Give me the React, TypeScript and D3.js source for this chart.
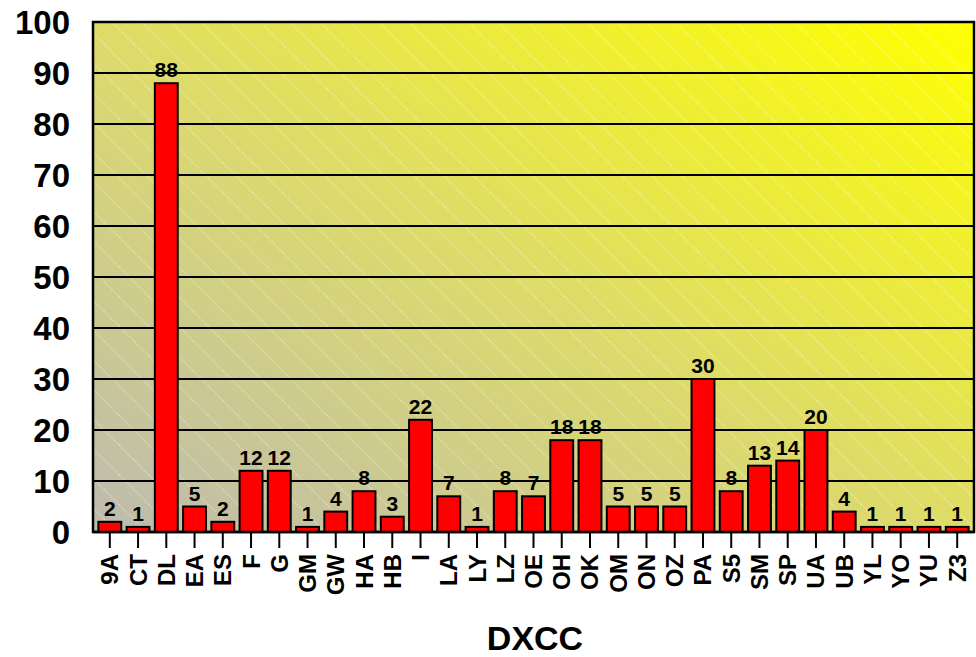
import React from 'react';
import * as d3 from 'd3';

const categories = ['9A', 'CT', 'DL', 'EA', 'ES', 'F', 'G', 'GM', 'GW', 'HA', 'HB', 'I', 'LA', 'LY', 'LZ', 'OE', 'OH', 'OK', 'OM', 'ON', 'OZ', 'PA', 'S5', 'SM', 'SP', 'UA', 'UB', 'YL', 'YO', 'YU', 'Z3'];
const values = [2, 1, 88, 5, 2, 12, 12, 1, 4, 8, 3, 22, 7, 1, 8, 7, 18, 18, 5, 5, 5, 30, 8, 13, 14, 20, 4, 1, 1, 1, 1];
const yTicks = [0, 10, 20, 30, 40, 50, 60, 70, 80, 90, 100];

const width = 976;
const height = 657;
const left = 93;
const right = 974;
const top = 22;
const bottom = 532;
const font = 'Arial, "Liberation Sans", sans-serif';

const App: React.FC = () => {
  const x = d3.scaleBand<string>().domain(categories).range([left, right]).padding(0.19);
  const y = d3.scaleLinear().domain([0, 100]).range([bottom, top]);
  const cx = (c: string) => (x(c) ?? 0) + x.bandwidth() / 2;

  return (
    <svg width={width} height={height} style={{ position: 'absolute', left: 0, top: 0 }}>
      <defs>
        <linearGradient id="bg" x1="0" y1="1" x2="1" y2="0">
          <stop offset="0" stopColor="#bdbbb0" />
          <stop offset="0.5" stopColor="#dedc68" />
          <stop offset="1" stopColor="#ffff00" />
        </linearGradient>
        <pattern id="hatch" width="21" height="21" patternUnits="userSpaceOnUse" patternTransform="rotate(-45)">
          <line x1="0.5" y1="0" x2="0.5" y2="21" stroke="#ffffff" strokeOpacity="0.5" strokeWidth="1" strokeDasharray="1 1" />
        </pattern>
      </defs>
      <rect x={left} y={top} width={right - left} height={bottom - top} fill="url(#bg)" />
      <rect x={left} y={top} width={right - left} height={bottom - top} fill="url(#hatch)" />

      {yTicks.map(t => (
        <g key={t}>
          <line x1={left} x2={right} y1={y(t)} y2={y(t)} stroke="#000" strokeWidth={2} />
          <text x={70} y={y(t) + 12} textAnchor="end" fontFamily={font} fontWeight="bold" fontSize={33}>{t}</text>
        </g>
      ))}
      <rect x={left} y={top} width={right - left} height={bottom - top} fill="none" stroke="#000" strokeWidth={2.5} />

      {categories.map((c, i) => (
        <g key={c}>
          <rect x={x(c)} y={y(values[i])} width={x.bandwidth()} height={bottom - y(values[i])} fill="#ff0000" stroke="#000" strokeWidth={2} />
          <text x={cx(c)} y={y(values[i]) - 6} textAnchor="middle" fontFamily={font} fontWeight="bold" fontSize={21}>{values[i]}</text>
          <line x1={cx(c)} x2={cx(c)} y1={bottom} y2={548} stroke="#000" strokeWidth={2} />
          <text transform={`translate(${cx(c) + 8.5},554) rotate(-90)`} textAnchor="end" fontFamily={font} fontWeight="bold" fontSize={24}>{c}</text>
        </g>
      ))}
      <line x1={left} x2={right} y1={bottom} y2={bottom} stroke="#000" strokeWidth={2.5} />

      <text x={535} y={650} textAnchor="middle" fontFamily={font} fontWeight="bold" fontSize={34}>DXCC</text>
    </svg>
  );
};

export default App;
